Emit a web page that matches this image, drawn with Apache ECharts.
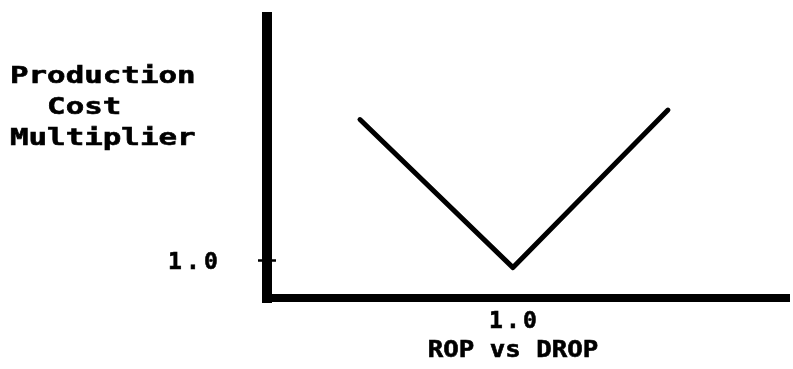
<!DOCTYPE html>
<html>
<head>
<meta charset="utf-8">
<script src="https://cdn.jsdelivr.net/npm/echarts@6/dist/echarts.min.js"></script>
<style>
html,body{margin:0;padding:0;background:#fff;}
#chart{width:793px;height:369px;}
</style>
</head>
<body>
<div id="chart"></div>
<script>
// ---- data ----
var xValues = [0.378, 1.0, 1.63];
var yValues = [4.70, 0.8, 4.95];
var xTickValues = [1.0];
var yTickValues = [1.0];
var yTitleLines = ['Production', '  Cost', 'Multiplier'];
var xTitle = 'ROP vs DROP';

var FONT = 'DejaVu Sans Mono';
function spread(text, key) {
  var out = '';
  for (var i = 0; i < text.length; i++) {
    out += '{' + key + '|' + text[i] + '}';
  }
  return out;
}
function charStyle(w, lh) {
  return { width: w, align: 'center', fontFamily: FONT, fontWeight: 'bold', fontSize: 23, color: '#000', lineHeight: lh,
           textBorderColor: '#000', textBorderWidth: 0.6 };
}

var chart = echarts.init(document.getElementById('chart'));
var option = {
  backgroundColor: '#fff',
  animation: false,
  grid: { left: 267, right: 7, top: 17, bottom: 71 },
  xAxis: {
    type: 'value', min: 0, max: 2.11,
    splitLine: { show: false },
    axisLine: { show: true, lineStyle: { color: '#000', width: 8, cap: 'square' } },
    axisTick: { show: false },
    axisLabel: {
      show: true, customValues: xTickValues, margin: 12,
      formatter: function (v) { return spread(v.toFixed(1), 'c'); },
      rich: { c: charStyle(17, 24) }
    }
  },
  yAxis: [{
    type: 'value', min: 0, max: 7.4,
    splitLine: { show: false },
    axisLine: { show: true, lineStyle: { color: '#000', width: 10, cap: 'square' } },
    axisTick: { show: true, inside: false, length: 9, customValues: yTickValues, lineStyle: { color: '#000', width: 2.5 } },
    axisLabel: {
      show: true, customValues: yTickValues, margin: 47,
      formatter: function (v) { return spread(v.toFixed(1), 'c'); },
      rich: { c: charStyle(18, 24) },
      padding: [7, 0, 0, 0]
    }
  }, {
    type: 'value', min: 0, max: 7.4, position: 'left',
    splitLine: { show: false },
    axisLine: { show: false },
    axisTick: { show: true, inside: true, length: 9, customValues: yTickValues, lineStyle: { color: '#000', width: 2.5 } },
    axisLabel: { show: false }
  }],
  series: [{
    type: 'line',
    data: xValues.map(function (x, i) { return [x, yValues[i]]; }),
    showSymbol: false,
    lineStyle: { color: '#000', width: 5, cap: 'round', join: 'round' }
  }]
};
chart.setOption(option);

// titles: placed via the chart's own coordinate conversion
var xMid = chart.convertToPixel({ xAxisIndex: 0 }, xTickValues[0]);
var xAxisY = chart.convertToPixel({ yAxisIndex: 0 }, 0);
var textBase = { fontFamily: FONT, fontWeight: 'bold', fontSize: 23, fill: '#000', stroke: '#000', lineWidth: 0.6 };
chart.setOption({
  graphic: [{
    type: 'text', x: 10, y: 62, scaleX: 1.34,
    style: Object.assign({ text: yTitleLines.join('\n'), lineHeight: 31, verticalAlign: 'top', align: 'left' }, textBase)
  }, {
    type: 'text', x: xMid, y: xAxisY + 41, scaleX: 1.12,
    style: Object.assign({ text: xTitle, lineHeight: 24, verticalAlign: 'top', align: 'center' }, textBase)
  }]
});
</script>
</body>
</html>
